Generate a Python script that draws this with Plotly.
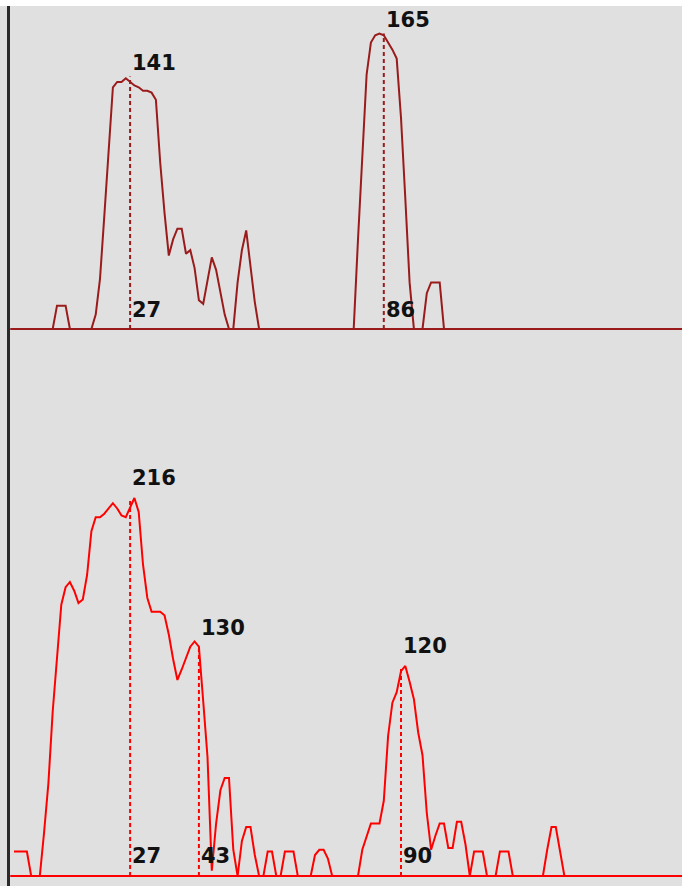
import plotly.graph_objects as go

# ---------------- data ----------------
positions = list(range(156))

upper_counts = [
    0, 0, 0, 0, 0, 0, 0, 0, 0, 0,            # 0-9
    13, 13, 13, 0, 0, 0, 0, 0, 0, 8,          # 10-19
    28, 63, 100, 135, 138, 138, 140, 138, 136, 135,   # 20-29
    133, 133, 132, 128, 93, 65, 41, 50, 56, 56,       # 30-39
    42, 44, 34, 16, 14, 27, 40, 33, 21, 8,            # 40-49
    0, 0, 26, 44, 55, 36, 15, 0, 0, 0,               # 50-59
    0, 0, 0, 0, 0, 0, 0, 0, 0, 0,                    # 60-69
    0, 0, 0, 0, 0, 0, 0, 0, 0, 0,                    # 70-79
    50, 97, 142, 160, 164, 165, 164, 160, 156, 151,  # 80-89
    118, 73, 26, 0, 0, 0, 20, 26, 26, 26,            # 90-99
    0, 0, 0, 0, 0, 0, 0, 0, 0, 0,                    # 100-109
    0, 0, 0, 0, 0, 0, 0, 0, 0, 0,                    # 110-119
    0, 0, 0, 0, 0, 0, 0, 0, 0, 0,                    # 120-129
    0, 0, 0, 0, 0, 0, 0, 0, 0, 0,                    # 130-139
    0, 0, 0, 0, 0, 0, 0, 0, 0, 0,                    # 140-149
    0, 0, 0, 0, 0, 0,                                # 150-155
]

lower_counts = [
    14, 14, 14, 14, 0, 0, 0, 25, 53, 94,              # 0-9
    126, 155, 165, 168, 163, 156, 158, 172, 197, 205,  # 10-19
    205, 207, 210, 213, 210, 206, 205, 211, 216, 208,  # 20-29
    178, 159, 151, 151, 151, 149, 138, 124, 112, 118,  # 30-39
    125, 131, 134, 131, 100, 68, 3, 30, 49, 56,        # 40-49
    56, 15, 0, 20, 28, 28, 12, 0, 0, 14,               # 50-59
    14, 0, 0, 14, 14, 14, 0, 0, 0, 0,                  # 60-69
    12, 15, 15, 10, 0, 0, 0, 0, 0, 0,                  # 70-79
    0, 15, 22, 30, 30, 30, 43, 80, 99, 105,            # 80-89
    117, 120, 111, 101, 82, 69, 36, 15, 23, 30,        # 90-99
    30, 16, 16, 31, 31, 18, 0, 14, 14, 14,             # 100-109
    0, 0, 0, 14, 14, 14, 0, 0, 0, 0,                   # 110-119
    0, 0, 0, 0, 15, 28, 28, 15, 0, 0,                  # 120-129
    0, 0, 0, 0, 0, 0, 0, 0, 0, 0,                      # 130-139
    0, 0, 0, 0, 0, 0, 0, 0, 0, 0,                      # 140-149
    0, 0, 0, 0, 0, 0,                                  # 150-155
]

upper_peak_pos = [27, 86]
upper_peak_val = [141, 165]
lower_peak_pos = [27, 43, 90]
lower_peak_val = [216, 130, 120]

# ---------------- style ----------------
UPPER_COLOR = "#9a1b1b"
LOWER_COLOR = "#ff0000"
BG = "#e0e0e0"
FONT = dict(family="DejaVu Sans", size=21, color="#111111")

fig = go.Figure()
fig.add_trace(go.Scatter(x=positions, y=upper_counts, mode="lines",
                         line=dict(color=UPPER_COLOR, width=2), yaxis="y2",
                         hoverinfo="skip"))
fig.add_trace(go.Scatter(x=positions, y=lower_counts, mode="lines",
                         line=dict(color=LOWER_COLOR, width=2), yaxis="y",
                         hoverinfo="skip"))

shapes = []
# baselines
shapes.append(dict(type="line", xref="paper", yref="y2", x0=0.015, x1=1, y0=0, y1=0,
                   line=dict(color=UPPER_COLOR, width=2)))
shapes.append(dict(type="line", xref="paper", yref="y", x0=0.015, x1=1, y0=0, y1=0,
                   line=dict(color=LOWER_COLOR, width=2)))
# left frame line
shapes.append(dict(type="line", xref="paper", yref="paper", x0=8.5 / 682, x1=8.5 / 682,
                   y0=0, y1=1, line=dict(color="#2a2a2a", width=3)))

annotations = []
for p, v in zip(upper_peak_pos, upper_peak_val):
    shapes.append(dict(type="line", xref="x", yref="y2", x0=p, x1=p, y0=0, y1=v,
                       line=dict(color=UPPER_COLOR, width=2, dash="4px,3px")))
    annotations.append(dict(x=p, y=v, xref="x", yref="y2", text="<b>%d</b>" % v,
                            showarrow=False, xanchor="left", yanchor="bottom",
                            yshift=0, font=FONT))
    annotations.append(dict(x=p, y=0, xref="x", yref="y2", text="<b>%d</b>" % p,
                            showarrow=False, xanchor="left", yanchor="bottom",
                            yshift=5, font=FONT))
for p, v in zip(lower_peak_pos, lower_peak_val):
    shapes.append(dict(type="line", xref="x", yref="y", x0=p, x1=p, y0=0, y1=v,
                       line=dict(color=LOWER_COLOR, width=2, dash="4px,3px")))
    annotations.append(dict(x=p, y=v, xref="x", yref="y", text="<b>%d</b>" % v,
                            showarrow=False, xanchor="left", yanchor="bottom",
                            yshift=6, font=FONT))
    annotations.append(dict(x=p, y=0, xref="x", yref="y", text="<b>%d</b>" % p,
                            showarrow=False, xanchor="left", yanchor="bottom",
                            yshift=6, font=FONT))

fig.update_layout(
    width=682, height=890,
    margin=dict(l=0, r=0, t=6, b=4, pad=0),
    paper_bgcolor="white", plot_bgcolor=BG,
    showlegend=False,
    xaxis=dict(range=[-3.256, 155.35], visible=False, fixedrange=True),
    yaxis=dict(range=[-5.71, 497.1], visible=False, fixedrange=True),
    yaxis2=dict(range=[-311.2, 180.4], visible=False, overlaying="y", fixedrange=True),
    shapes=shapes, annotations=annotations,
)

fig.write_html(
    "out.html",
    config={"displayModeBar": False},
    post_script="document.body.style.margin='0';document.body.style.overflow='hidden';",
)
